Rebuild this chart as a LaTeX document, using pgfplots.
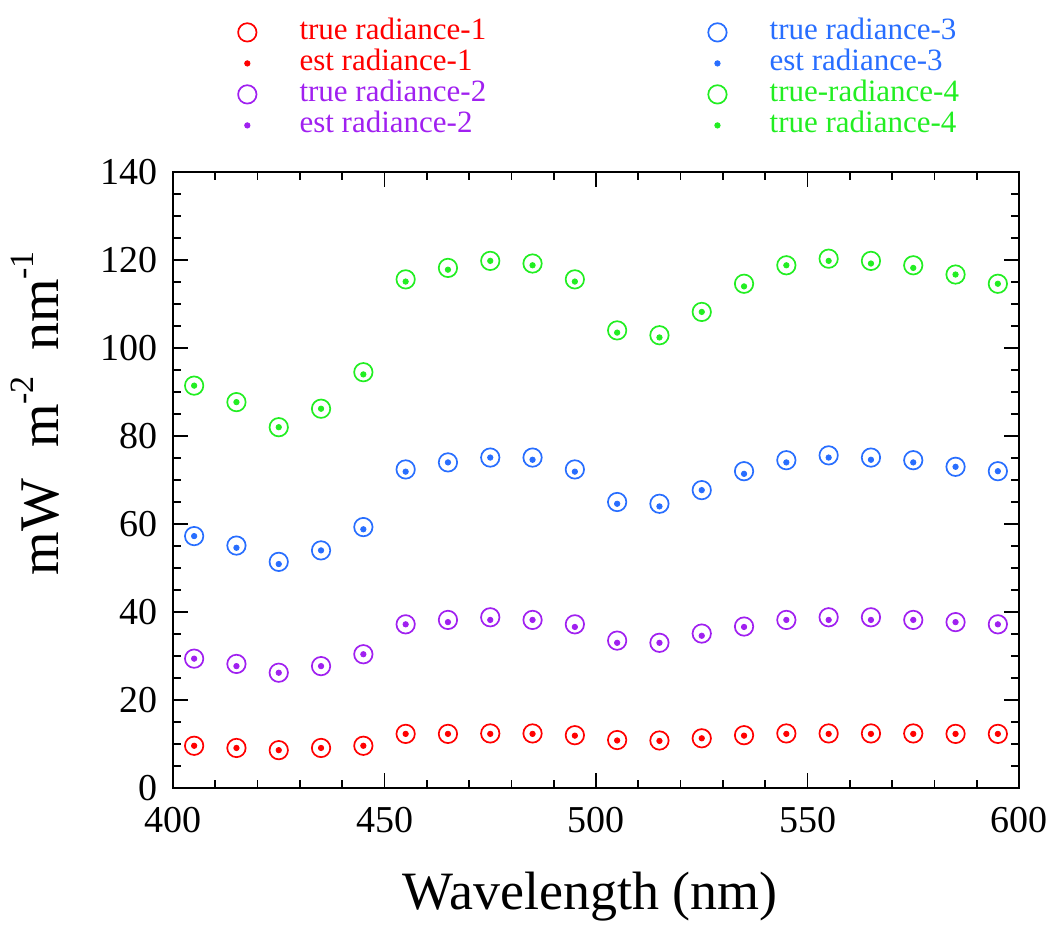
\documentclass[border=0pt]{standalone}
\usepackage{fontspec}
\setmainfont{Liberation Serif}
\usepackage{pgfplots}
\usepackage{pgfplotstable}
\pgfplotsset{compat=1.18}
\definecolor{cred}{RGB}{255,0,0}
\definecolor{cpurple}{RGB}{160,32,240}
\definecolor{cblue}{RGB}{40,110,255}
\definecolor{cgreen}{RGB}{34,238,34}

\pgfplotstableread{
x   t1   e1   t2   e2   t3    e3    t4    e4
405 9.6  9.6  29.4 29.4 57.25 57.25 91.45 91.45
415 9.1  9.1  28.2 27.7 55.1  54.6  87.7  87.7
425 8.6  8.6  26.2 26.2 51.4  50.9  82.0  82.0
435 9.1  9.1  27.7 27.7 54.0  54.0  86.2  86.2
445 9.6  9.6  30.4 30.4 59.3  58.8  94.5  94.0
455 12.3 12.3 37.2 37.2 72.4  71.9  115.6 115.1
465 12.3 12.3 38.2 37.7 74.0  74.0  118.2 117.8
475 12.4 12.3 38.8 38.2 75.1  75.1  119.8 119.8
485 12.4 12.3 38.2 38.2 75.1  74.6  119.2 118.8
495 12.0 11.9 37.2 36.6 72.4  71.9  115.6 115.1
505 10.9 10.8 33.5 33.0 65.0  64.6  104.0 103.5
515 10.8 10.7 33.0 33.0 64.6  64.0  102.9 102.4
525 11.3 11.3 35.1 34.6 67.7  67.7  108.2 108.2
535 12.0 11.9 36.7 36.6 72.0  71.4  114.6 114.0
545 12.4 12.3 38.2 38.2 74.5  74.0  118.8 118.8
555 12.4 12.3 38.8 38.2 75.6  75.1  120.3 119.8
565 12.4 12.3 38.8 38.2 75.1  74.6  119.8 119.2
575 12.4 12.3 38.2 38.2 74.5  74.0  118.8 118.2
585 12.3 12.3 37.7 37.7 73.0  73.0  116.7 116.7
595 12.3 12.3 37.2 37.2 72.0  72.0  114.6 114.6
}\data

\newcommand{\supr}[1]{\raisebox{0.45em}{\fontsize{17}{19}\selectfont #1}}

\begin{document}
\begin{tikzpicture}
\useasboundingbox (0,0) rectangle (527.5pt,464pt);
\begin{axis}[
  at={(86.5pt,70pt)}, anchor=south west,
  scale only axis, width=423pt, height=308pt,
  xmin=400, xmax=600, ymin=0, ymax=140,
  xtick={400,450,...,600}, ytick={0,20,...,140},
  minor x tick num=4, minor y tick num=3,
  tick align=inside,
  major tick length=7.5pt, minor tick length=4pt,
  axis line style={line width=0.85pt},
  every tick/.style={black, line width=0.85pt},
  /pgf/number format/assume math mode=true,
  tick label style={font=\fontsize{19}{22}\selectfont},
  yticklabel style={xshift=-4pt},
  xticklabel style={yshift=-6pt},
  xlabel={Wavelength (nm)},
  ylabel={mW\hspace{0.55em}m\supr{-2}\hspace{0.45em}nm\supr{-1}},
  every axis x label/.style={at={(axis description cs:0.493,-0.198)}, anchor=base, font=\fontsize{27}{31}\selectfont},
  every axis y label/.style={at={(axis description cs:-0.135,0.334)}, anchor=base west, rotate=90, font=\fontsize{28}{32}\selectfont},
  legend columns=4, transpose legend, legend cell align=left,
  legend style={draw=none, fill=none, at={(axis description cs:0.0765,1.250)}, anchor=north west,
    inner sep=0pt, font=\fontsize{15.5}{18}\selectfont, row sep=1.5pt,
    /tikz/every odd column/.append style={column sep=21.5pt},
    /tikz/every even column/.append style={column sep=111pt},
    nodes={inner sep=0pt, text height=10.5pt, text depth=3.5pt}},
]
\addplot[only marks, mark=o, cred, mark size=4.6pt, line width=0.85pt] table[x=x,y=t1]{\data};
\addlegendentry[text=cred]{true radiance-1}
\addplot[only marks, mark=*, cred, mark size=1.35pt] table[x=x,y=e1]{\data};
\addlegendentry[text=cred]{est radiance-1}
\addplot[only marks, mark=o, cpurple, mark size=4.6pt, line width=0.85pt] table[x=x,y=t2]{\data};
\addlegendentry[text=cpurple]{true radiance-2}
\addplot[only marks, mark=*, cpurple, mark size=1.35pt] table[x=x,y=e2]{\data};
\addlegendentry[text=cpurple]{est radiance-2}
\addplot[only marks, mark=o, cblue, mark size=4.6pt, line width=0.85pt] table[x=x,y=t3]{\data};
\addlegendentry[text=cblue]{true radiance-3}
\addplot[only marks, mark=*, cblue, mark size=1.35pt] table[x=x,y=e3]{\data};
\addlegendentry[text=cblue]{est radiance-3}
\addplot[only marks, mark=o, cgreen, mark size=4.6pt, line width=0.85pt] table[x=x,y=t4]{\data};
\addlegendentry[text=cgreen]{true-radiance-4}
\addplot[only marks, mark=*, cgreen, mark size=1.35pt] table[x=x,y=e4]{\data};
\addlegendentry[text=cgreen]{true radiance-4}
\end{axis}
\end{tikzpicture}
\end{document}
